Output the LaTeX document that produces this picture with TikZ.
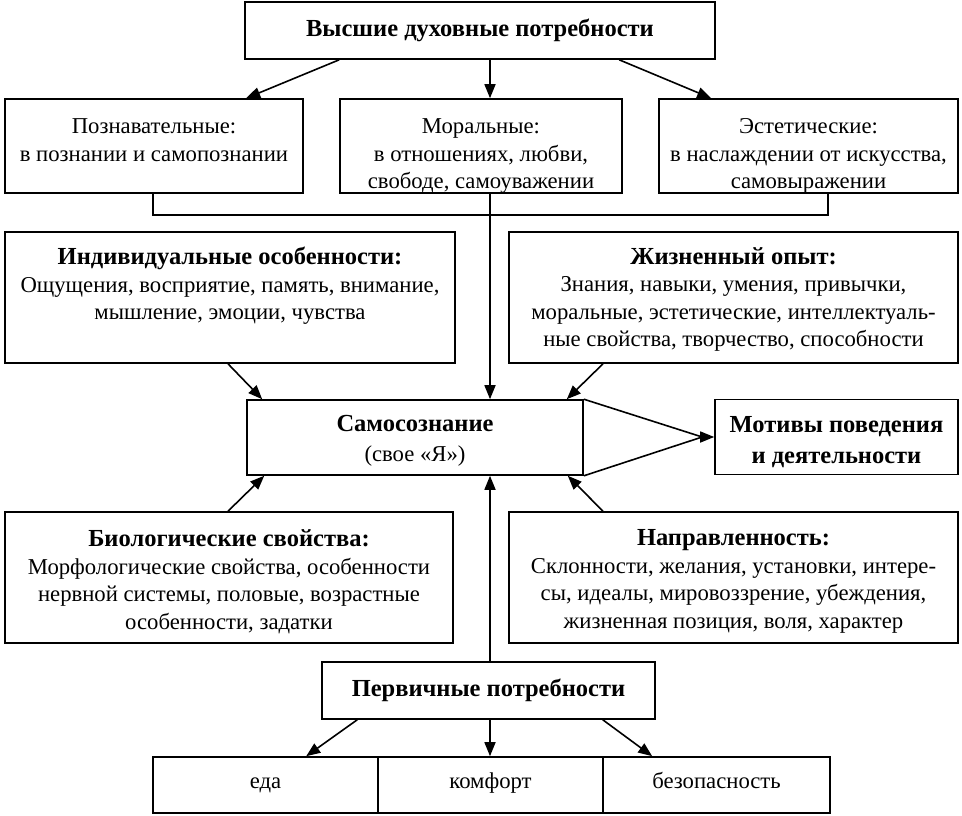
\documentclass[tikz,border=0pt]{standalone}
\usepackage{fontspec}
\setmainfont{Liberation Serif}
\usetikzlibrary{arrows.meta, positioning, calc}

\newcommand{\hd}[1]{{\fontsize{24.5}{27.5}\selectfont\bfseries #1}}

\tikzset{
  box/.style={rectangle, draw=black, line width=1.6pt, inner sep=0pt},
  txt/.style={anchor=north, align=center, inner sep=0pt,
    font=\fontsize{22.7}{27.5}\selectfont},
  arrow/.style={-{Triangle[length=14pt,width=11pt]}, line width=1.6pt},
  line/.style={line width=1.6pt}
}

\begin{document}
\begin{tikzpicture}[x=1pt, y=-1pt]
  \useasboundingbox (0,0) rectangle (962,816);

  % Higher needs
  \node[box, minimum width=470pt, minimum height=57pt] (top) at (480,30.5) {};
  \node[txt, anchor=center] (topT) at (top.center) {\hd{Высшие духовные потребности}};

  \node[box, minimum width=298pt, minimum height=94pt] (cog) at (154,146) {};
  \node[box, minimum width=282pt, minimum height=94pt] (mor) at (481,146) {};
  \node[box, minimum width=299pt, minimum height=94pt] (aes) at (808.5,146) {};
  \node[txt] (cogT) at ([yshift=-20.5]cog.north) {Познавательные:\\в познании и самопознании};
  \node[txt] (morT) at ([yshift=-20.5]mor.north) {Моральные:\\в отношениях, любви,\\свободе, самоуважении};
  \node[txt] (aesT) at ([yshift=-20.5]aes.north) {Эстетические:\\в наслаждении от искусства,\\самовыражении};

  % Self and the four sources
  \node[box, minimum width=450pt, minimum height=131pt] (ind) at (230,297.5) {};
  \node[box, minimum width=449pt, minimum height=131pt] (exp) at (733.5,297.5) {};
  \node[txt] (indT) at ([yshift=-16]ind.north) {\hd{Индивидуальные особенности:}\\Ощущения, восприятие, память, внимание,\\мышление, эмоции, чувства};
  \node[txt] (expT) at ([yshift=-16]exp.north) {\hd{Жизненный опыт:}\\Знания, навыки, умения, привычки,\\моральные, эстетические, интеллектуаль-\\ные свойства, творчество, способности};

  \node[box, minimum width=336pt, minimum height=75pt] (self) at (415,437.5) {};
  \node[txt, anchor=center, font=\fontsize{22.7}{29.5}\selectfont] (selfT) at ([yshift=-3.5]self.center) {\hd{Самосознание}\\(свое «Я»)};
  \node[box, minimum width=243pt, minimum height=75pt] (mot) at (836.5,437) {};
  \node[txt, anchor=center, font=\fontsize{24.5}{31}\selectfont\bfseries] (motT) at ([yshift=-5]mot.center) {Мотивы поведения\\и деятельности};

  \node[box, minimum width=448pt, minimum height=131pt] (bio) at (229,577.5) {};
  \node[box, minimum width=449pt, minimum height=131pt] (dir) at (733.5,577.5) {};
  \node[txt] (bioT) at ([yshift=-18.5]bio.north) {\hd{Биологические свойства:}\\Морфологические свойства, особенности\\нервной системы, половые, возрастные\\особенности, задатки};
  \node[txt] (dirT) at ([yshift=-18.5]dir.north) {\hd{Направленность:}\\Склонности, желания, установки, интере-\\сы, идеалы, мировоззрение, убеждения,\\жизненная позиция, воля, характер};

  % Primary needs
  \node[box, minimum width=333pt, minimum height=57pt] (prim) at (488.5,690.5) {};
  \node[txt, anchor=center] (primT) at (prim.center) {\hd{Первичные потребности}};
  \node[box, minimum width=225pt, minimum height=56pt] (food) at (265.5,785) {};
  \node[box, minimum width=225pt, minimum height=56pt] (comf) at (490.5,785) {};
  \node[box, minimum width=227pt, minimum height=56pt] (safe) at (716.5,785) {};
  \node[txt, anchor=base] (foodT) at ([yshift=-3]food.center) {еда};
  \node[txt, anchor=base] (comfT) at ([yshift=-3]comf.center) {комфорт};
  \node[txt, anchor=base] (safeT) at ([yshift=-3]safe.center) {безопасность};

  \coordinate (spine) at (490,0);

  % Connectors
  \draw[arrow] ([xshift=95]top.south west) -- ([xshift=242]cog.north west);
  \draw[arrow] (top.south -| spine) -- (mor.north -| spine);
  \draw[arrow] ([xshift=375]top.south west) -- ([xshift=53]aes.north west);
  \draw[line] ([xshift=-1]cog.south) -- ++(0,21) -| ([xshift=19.5]aes.south);
  \draw[arrow] (mor.south -| spine) -- (self.north -| spine);
  \draw[arrow] ([xshift=-2]ind.south) -- ([xshift=16]self.north west);
  \draw[arrow] ([xshift=-130.5]exp.south) -- ([xshift=-17]self.north east);
  \draw[line] (self.north east) -- ([xshift=-12]mot.west) -- (self.south east);
  \draw[arrow] ([xshift=-14]mot.west) -- (mot.west);
  \draw[arrow] ([xshift=-1]bio.north) -- ([xshift=18]self.south west);
  \draw[arrow] ([xshift=-130.5]dir.north) -- ([xshift=-16]self.south east);
  \draw[arrow] (prim.north -| spine) -- (self.south -| spine);
  \draw[arrow] ([xshift=36]prim.south west) -- ([xshift=154]food.north west);
  \draw[arrow] (prim.south -| spine) -- (comf.north -| spine);
  \draw[arrow] ([xshift=-53]prim.south east) -- ([xshift=50]safe.north west);
\end{tikzpicture}
\end{document}
